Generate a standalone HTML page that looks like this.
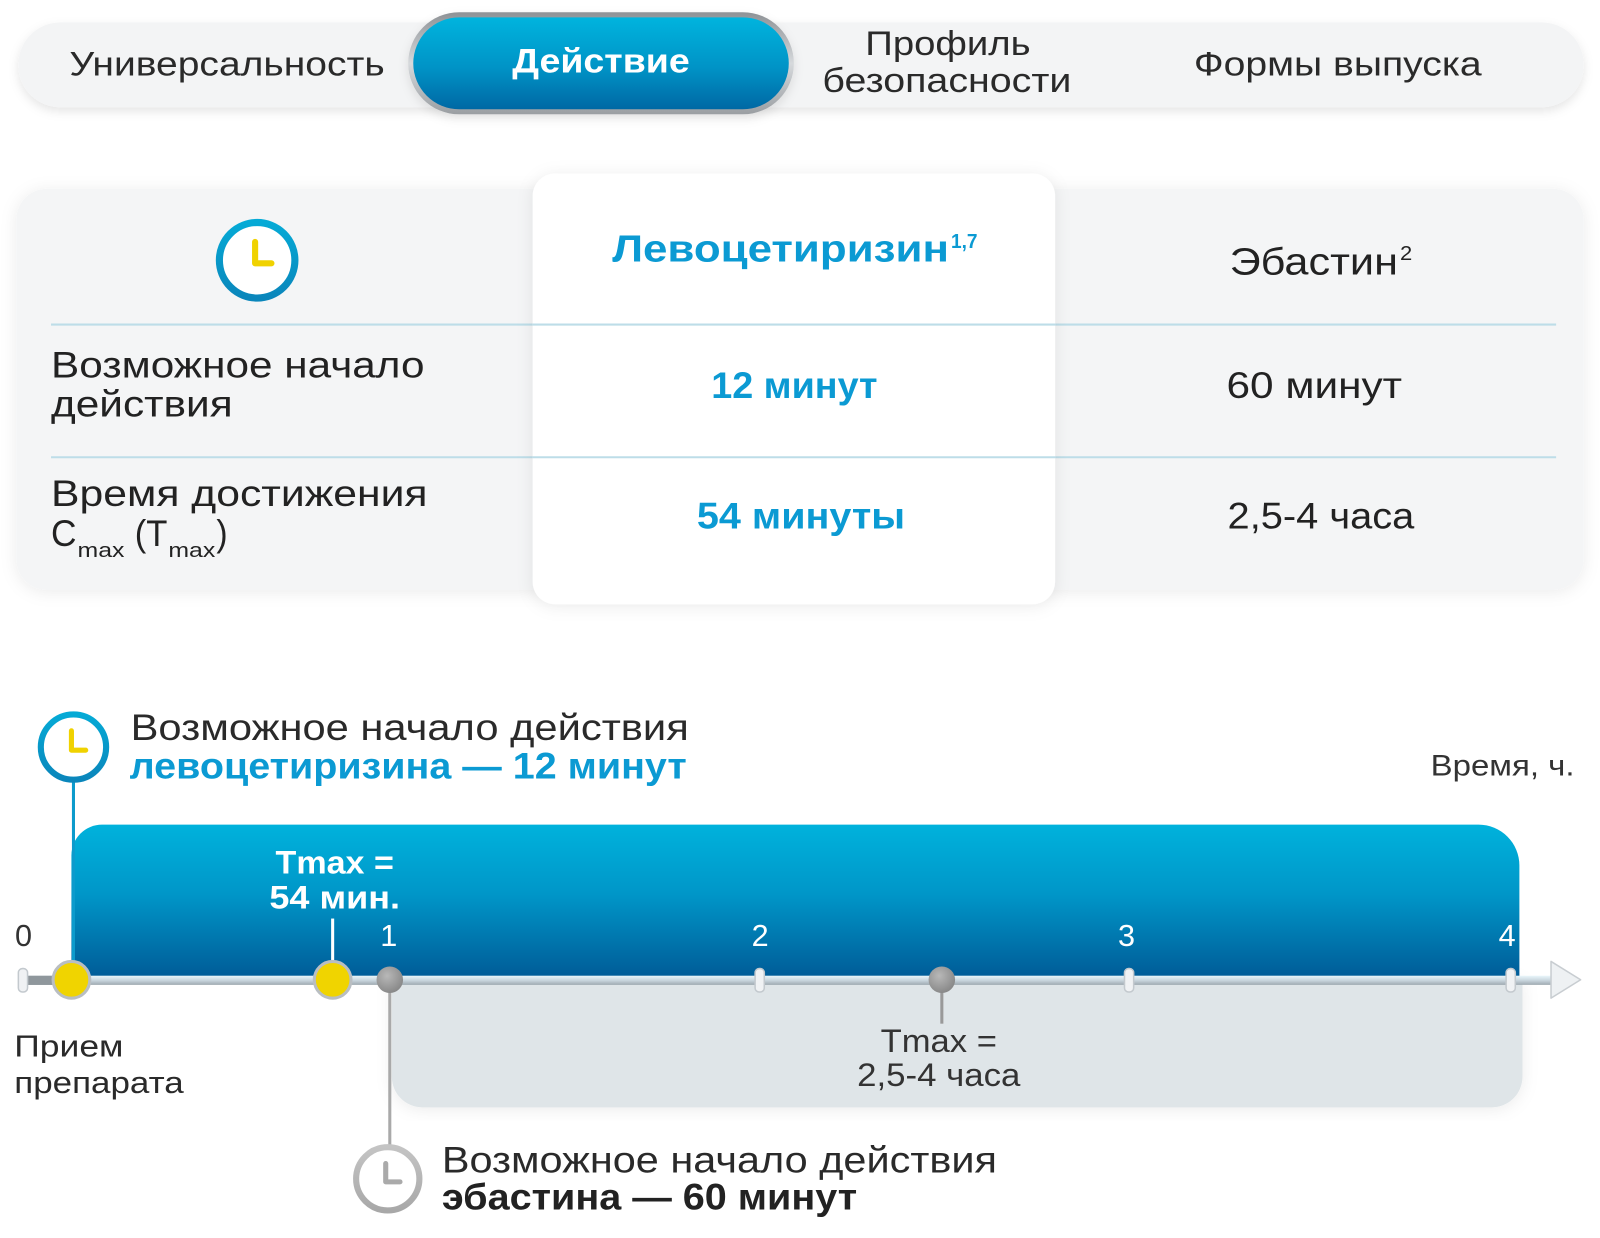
<!DOCTYPE html>
<html><head><meta charset="utf-8"><style>
html,body{margin:0;padding:0;background:#fff;}
svg{display:block;}
text{font-family:"Liberation Sans",sans-serif;}
</style></head><body>
<svg width="1600" height="1238" viewBox="0 0 1568 1213" preserveAspectRatio="none" xmlns="http://www.w3.org/2000/svg">
<defs>
  <filter id="sh" x="-5%" y="-20%" width="110%" height="150%">
    <feDropShadow dx="0" dy="4" stdDeviation="5" flood-color="#000" flood-opacity="0.10"/>
  </filter>
  <filter id="sh2" x="-10%" y="-10%" width="120%" height="120%">
    <feDropShadow dx="0" dy="2" stdDeviation="8" flood-color="#000" flood-opacity="0.08"/>
  </filter>
  <linearGradient id="blueBtn" x1="0" y1="0" x2="0" y2="1">
    <stop offset="0" stop-color="#00b4de"/>
    <stop offset="0.55" stop-color="#0093c6"/>
    <stop offset="1" stop-color="#0068a4"/>
  </linearGradient>
  <linearGradient id="silver" x1="0" y1="0" x2="0" y2="1">
    <stop offset="0" stop-color="#8e9296"/>
    <stop offset="0.5" stop-color="#d6d9dc"/>
    <stop offset="1" stop-color="#9a9ea2"/>
  </linearGradient>
  <linearGradient id="blueBar" x1="0" y1="0" x2="0" y2="1">
    <stop offset="0" stop-color="#00b2dc"/>
    <stop offset="0.45" stop-color="#0096c8"/>
    <stop offset="1" stop-color="#005a96"/>
  </linearGradient>
  <linearGradient id="ring" x1="0" y1="0" x2="0" y2="1">
    <stop offset="0" stop-color="#05aad6"/>
    <stop offset="1" stop-color="#0a86bb"/>
  </linearGradient>
  <linearGradient id="axis" x1="0" y1="0" x2="0" y2="1">
    <stop offset="0" stop-color="#eaf6fb"/>
    <stop offset="0.5" stop-color="#c9d6de"/>
    <stop offset="1" stop-color="#9ea9b0"/>
  </linearGradient>
  <radialGradient id="grayDot" cx="0.4" cy="0.35" r="0.7">
    <stop offset="0" stop-color="#b8b8b8"/>
    <stop offset="1" stop-color="#858585"/>
  </radialGradient>
  <linearGradient id="grayRing" x1="0" y1="0" x2="0" y2="1">
    <stop offset="0" stop-color="#c4c4c4"/>
    <stop offset="1" stop-color="#a8a8a8"/>
  </linearGradient>
</defs>

<!-- NAV -->
<rect x="18" y="22" width="1534" height="83" rx="41" fill="#f3f4f5" filter="url(#sh)"/>
<rect x="400" y="12" width="378" height="100" rx="50" fill="url(#silver)" filter="url(#sh)"/>
<rect x="405" y="17" width="368" height="90" rx="45" fill="url(#blueBtn)"/>
<text x="68" y="74" font-size="34" fill="#2a2a2a" textLength="309" lengthAdjust="spacingAndGlyphs">Универсальность</text>
<text x="502" y="71" font-size="34" font-weight="bold" fill="#fff" textLength="174" lengthAdjust="spacingAndGlyphs">Действие</text>
<text x="848" y="54" font-size="34" fill="#2a2a2a" textLength="162" lengthAdjust="spacingAndGlyphs">Профиль</text>
<text x="806" y="90" font-size="34" fill="#2a2a2a" textLength="244" lengthAdjust="spacingAndGlyphs">безопасности</text>
<text x="1170" y="74" font-size="34" fill="#2a2a2a" textLength="282" lengthAdjust="spacingAndGlyphs">Формы выпуска</text>

<!-- TABLE -->
<rect x="16" y="185" width="1536" height="393" rx="30" fill="#f4f5f6" filter="url(#sh2)"/>
<line x1="50" y1="318" x2="1525" y2="318" stroke="#bddde8" stroke-width="2"/>
<line x1="50" y1="448" x2="1525" y2="448" stroke="#bddde8" stroke-width="2"/>
<rect x="522" y="170" width="512" height="422" rx="22" fill="#ffffff" filter="url(#sh2)"/>
<line x1="522" y1="318" x2="1034" y2="318" stroke="#bddde8" stroke-width="2"/>
<line x1="522" y1="448" x2="1034" y2="448" stroke="#bddde8" stroke-width="2"/>

<circle cx="252" cy="255" r="37" fill="#fff" stroke="url(#ring)" stroke-width="7"/>
<path d="M250 237 V258 H266" fill="none" stroke="#f0d200" stroke-width="6" stroke-linecap="round" stroke-linejoin="round"/>

<text x="600" y="256" font-size="37" font-weight="bold" fill="#0b9ad3" textLength="330" lengthAdjust="spacingAndGlyphs">Левоцетиризин</text>
<text x="932" y="243" font-size="20" font-weight="bold" fill="#0b9ad3" textLength="26" lengthAdjust="spacingAndGlyphs">1,7</text>
<text x="1205" y="269" font-size="37" fill="#222" textLength="165" lengthAdjust="spacingAndGlyphs">Эбастин</text>
<text x="1372" y="255" font-size="20" fill="#222" textLength="12" lengthAdjust="spacingAndGlyphs">2</text>

<text x="50" y="370" font-size="36" fill="#222" textLength="366" lengthAdjust="spacingAndGlyphs">Возможное начало</text>
<text x="50" y="408" font-size="36" fill="#222" textLength="178" lengthAdjust="spacingAndGlyphs">действия</text>
<text x="697" y="390" font-size="36" font-weight="bold" fill="#0b9ad3" textLength="163" lengthAdjust="spacingAndGlyphs">12 минут</text>
<text x="1202" y="390" font-size="36" fill="#222" textLength="172" lengthAdjust="spacingAndGlyphs">60 минут</text>

<text x="50" y="496" font-size="36" fill="#222" textLength="369" lengthAdjust="spacingAndGlyphs">Время достижения</text>
<text x="50" y="535" font-size="36" fill="#222" textLength="25" lengthAdjust="spacingAndGlyphs">C</text>
<text x="76" y="546" font-size="20" fill="#222" textLength="46" lengthAdjust="spacingAndGlyphs">max</text>
<text x="132" y="535" font-size="36" fill="#222" textLength="32" lengthAdjust="spacingAndGlyphs">(T</text>
<text x="165" y="546" font-size="20" fill="#222" textLength="46" lengthAdjust="spacingAndGlyphs">max</text>
<text x="212" y="535" font-size="36" fill="#222" textLength="11" lengthAdjust="spacingAndGlyphs">)</text>
<text x="683" y="518" font-size="36" font-weight="bold" fill="#0b9ad3" textLength="204" lengthAdjust="spacingAndGlyphs">54 минуты</text>
<text x="1203" y="518" font-size="36" fill="#222" textLength="183" lengthAdjust="spacingAndGlyphs">2,5-4 часа</text>

<!-- TIMELINE -->
<text x="128" y="725" font-size="36" fill="#2a2a2a" textLength="547" lengthAdjust="spacingAndGlyphs">Возможное начало действия</text>
<text x="127" y="763" font-size="36" font-weight="bold" fill="#0b9ad3" textLength="546" lengthAdjust="spacingAndGlyphs">левоцетиризина — 12 минут</text>
<text x="1402" y="760" font-size="29" fill="#333" textLength="141" lengthAdjust="spacingAndGlyphs">Время, ч.</text>

<!-- gray lower area -->
<path d="M384 960 H1492 V1055 A30 30 0 0 1 1462 1085 H414 A30 30 0 0 1 384 1055 Z" fill="#dfe5e8" filter="url(#sh2)"/>
<!-- blue bar -->
<path d="M70 960 V838 A30 30 0 0 1 100 808 H1449 A40 40 0 0 1 1489 848 V960 Z" fill="url(#blueBar)"/>

<!-- lines -->
<line x1="72" y1="765" x2="72" y2="950" stroke="#0c9bcc" stroke-width="3"/>
<line x1="382" y1="960" x2="382" y2="1124" stroke="#a9a9a9" stroke-width="3"/>
<line x1="923" y1="960" x2="923" y2="1003" stroke="#999" stroke-width="3"/>

<!-- axis -->
<rect x="22" y="956" width="1500" height="9" fill="url(#axis)"/>
<rect x="22" y="956" width="50" height="9" fill="#8f979c"/>
<path d="M1520 942 L1549 960 L1520 978 Z" fill="#eef1f3" stroke="#c8cdd1" stroke-width="1.5" stroke-linejoin="round"/>
<rect x="18" y="949" width="9" height="23" rx="4" fill="#f0f2f4" stroke="#c3c9ce" stroke-width="1.5"/>
<rect x="740" y="949" width="9" height="23" rx="4" fill="#f0f2f4" stroke="#c3c9ce" stroke-width="1.5"/>
<rect x="1102" y="949" width="9" height="23" rx="4" fill="#f0f2f4" stroke="#c3c9ce" stroke-width="1.5"/>
<rect x="1476" y="949" width="9" height="23" rx="4" fill="#f0f2f4" stroke="#c3c9ce" stroke-width="1.5"/>

<!-- tick labels -->
<text x="23" y="927" font-size="30" fill="#333" text-anchor="middle">0</text>
<text x="381" y="927" font-size="30" fill="#fff" text-anchor="middle">1</text>
<text x="745" y="927" font-size="30" fill="#fff" text-anchor="middle">2</text>
<text x="1104" y="927" font-size="30" fill="#fff" text-anchor="middle">3</text>
<text x="1477" y="927" font-size="30" fill="#fff" text-anchor="middle">4</text>

<!-- tmax levo -->
<line x1="326" y1="900" x2="326" y2="945" stroke="#fff" stroke-width="3"/>
<text x="270" y="856" font-size="32" font-weight="bold" fill="#fff" textLength="116" lengthAdjust="spacingAndGlyphs">Tmax =</text>
<text x="264" y="890" font-size="32" font-weight="bold" fill="#fff" textLength="128" lengthAdjust="spacingAndGlyphs">54 мин.</text>

<!-- dots -->
<circle cx="70" cy="960" r="18" fill="#f0d400" stroke="#b9bec2" stroke-width="3"/>
<circle cx="326" cy="960" r="18" fill="#f0d400" stroke="#b9bec2" stroke-width="3"/>
<circle cx="382" cy="960" r="13" fill="url(#grayDot)"/>
<circle cx="923" cy="960" r="13" fill="url(#grayDot)"/>

<!-- top clock -->
<circle cx="72" cy="732" r="32" fill="#fff" stroke="url(#ring)" stroke-width="6"/>
<path d="M70 716 V735 H84" fill="none" stroke="#f0d200" stroke-width="5" stroke-linecap="round" stroke-linejoin="round"/>

<!-- bottom clock -->
<circle cx="380" cy="1155" r="31" fill="#fff" stroke="url(#grayRing)" stroke-width="6"/>
<path d="M378 1140 V1158 H392" fill="none" stroke="#aaa" stroke-width="5" stroke-linecap="round" stroke-linejoin="round"/>

<!-- labels -->
<text x="863" y="1031" font-size="32" fill="#333" textLength="114" lengthAdjust="spacingAndGlyphs">Tmax =</text>
<text x="840" y="1064" font-size="32" fill="#333" textLength="160" lengthAdjust="spacingAndGlyphs">2,5-4 часа</text>
<text x="14" y="1035" font-size="30" fill="#2a2a2a" textLength="107" lengthAdjust="spacingAndGlyphs">Прием</text>
<text x="14" y="1071" font-size="30" fill="#2a2a2a" textLength="166" lengthAdjust="spacingAndGlyphs">препарата</text>
<text x="433" y="1149" font-size="36" fill="#2a2a2a" textLength="544" lengthAdjust="spacingAndGlyphs">Возможное начало действия</text>
<text x="433" y="1185" font-size="36" font-weight="bold" fill="#222" textLength="407" lengthAdjust="spacingAndGlyphs">эбастина — 60 минут</text>
</svg>
</body></html>
